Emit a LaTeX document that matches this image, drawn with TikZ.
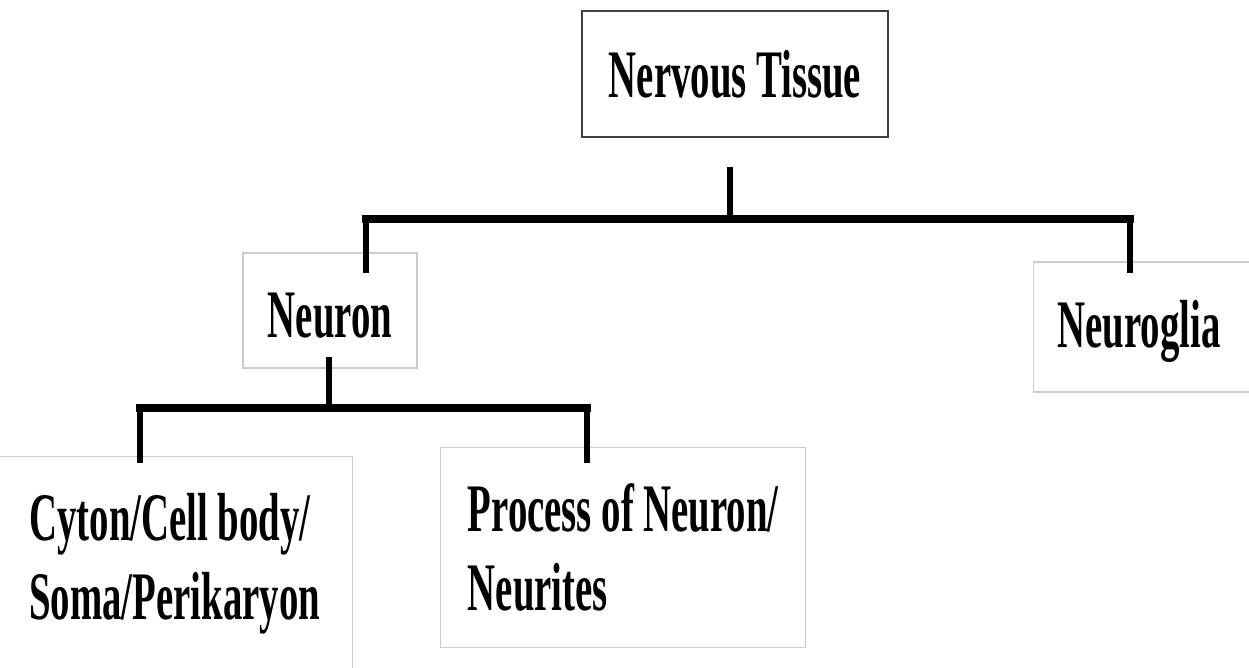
\documentclass[tikz,border=0pt]{standalone}
\usepackage{fontspec}
\newfontfamily\condfont{Liberation Serif}[FakeStretch=0.57]
\begin{document}
\begin{tikzpicture}[
    box/.style={draw=gray!40, line width=0.7pt, fill=white, inner sep=0pt,
                font=\condfont\bfseries\fontsize{34}{39.5}\selectfont},
    topbox/.style={box, draw=black!75, line width=1pt},
    bar/.style={line width=4pt, line cap=rect},
    stem/.style={line width=3pt},
    x=0.5pt, y=-0.5pt
  ]
  \useasboundingbox (0,0) rectangle (1249,668);
  % boxes
  \node[topbox, minimum width=153pt, minimum height=63pt] (tissue) at (735,74) {Nervous Tissue};
  \node[box, minimum width=87pt, minimum height=57.5pt, text height=27.5pt, text depth=0pt] (neuron) at (330,310.5) {Neuron};
  \node[box, anchor=west, align=left, text width=100pt, inner xsep=12pt,
        minimum height=65pt, text depth=3.5pt] (glia) at (1033,327) {Neuroglia};
  \node[box, anchor=north west, align=left, minimum width=178pt,
        inner ysep=18.5pt] (cyton) at (-4,456) {Cyton/Cell body/\\Soma/Perikaryon};
  \node[box, anchor=north west, align=left, minimum width=182.5pt,
        inner ysep=18pt] (process) at (440,447) {Process of Neuron/\\Neurites};
  % first split
  \coordinate (tstem) at (730,167);
  \coordinate (tsplit) at (730,219);
  \coordinate (lsplit) at (366,219);
  \coordinate (rsplit) at (1130,219);
  \coordinate (neurontop) at (366,273);
  \coordinate (gliatop) at (1130,273);
  \draw[stem] (tstem) -- (tsplit);
  \draw[bar] (lsplit) -- (rsplit);
  \draw[stem] (lsplit) -- (neurontop);
  \draw[stem] (rsplit) -- (gliatop);
  % second split
  \coordinate (nstem) at (329,357);
  \coordinate (nsplit) at (329,408);
  \coordinate (csplit) at (140,408);
  \coordinate (psplit) at (587,408);
  \coordinate (cytontop) at (140,463);
  \coordinate (processtop) at (587,463);
  \draw[stem] (nstem) -- (nsplit);
  \draw[bar] (csplit) -- (psplit);
  \draw[stem] (csplit) -- (cytontop);
  \draw[stem] (psplit) -- (processtop);
\end{tikzpicture}
\end{document}
